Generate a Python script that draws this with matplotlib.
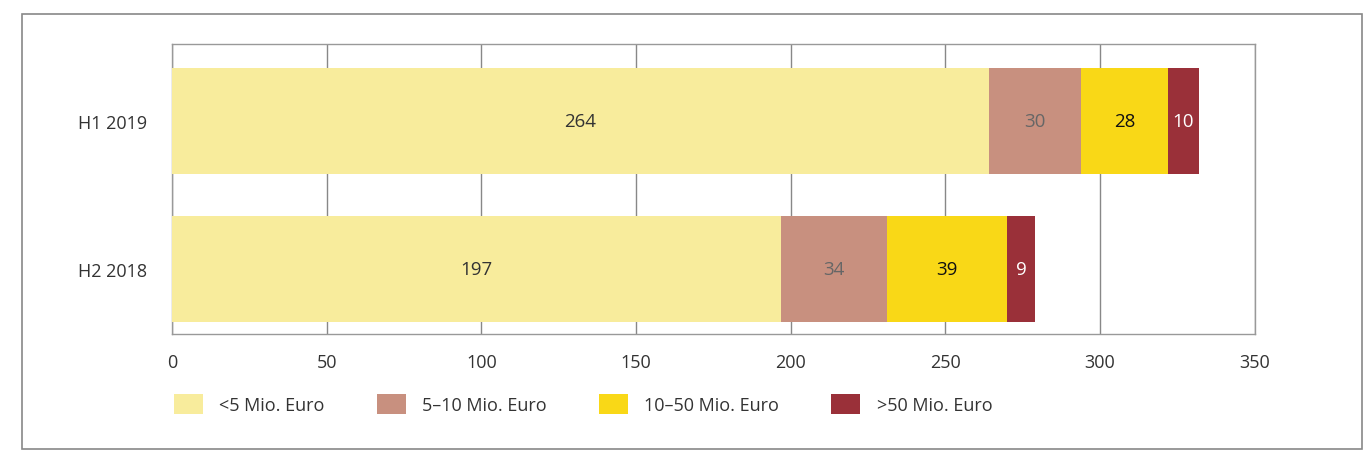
import matplotlib.pyplot as plt
from matplotlib.patches import Rectangle

categories = ["H2 2018", "H1 2019"]
series_names = ["<5 Mio. Euro", "5\u201310 Mio. Euro", "10\u201350 Mio. Euro", ">50 Mio. Euro"]
under_5 = [197, 264]
from_5_to_10 = [34, 30]
from_10_to_50 = [39, 28]
over_50 = [9, 10]
x_ticks = [0, 50, 100, 150, 200, 250, 300, 350]

colors = ["#F8EC9C", "#C8907F", "#F9D817", "#9A3039"]
label_colors = ["#333333", "#666666", "#111111", "#ffffff"]

plt.rcParams['font.family'] = ['Open Sans', 'DejaVu Sans']

fig = plt.figure(figsize=(13.72, 4.6), dpi=100)
ax = fig.add_axes([0.1254, 0.272, 0.789, 0.63])

series = [under_5, from_5_to_10, from_10_to_50, over_50]
ypos = list(range(len(categories)))
left = [0] * len(categories)
for name, values, color, tcolor in zip(series_names, series, colors, label_colors):
    bars = ax.barh(ypos, values, left=left, height=0.72, color=color, label=name, zorder=3)
    for bar, v in zip(bars, values):
        ax.text(bar.get_x() + bar.get_width() / 2, bar.get_y() + bar.get_height() / 2, str(v),
                ha="center", va="center", fontsize=13.5, color=tcolor, zorder=4)
    left = [l + v for l, v in zip(left, values)]

ax.set_xlim(0, 350)
ax.set_ylim(-0.44, 1.52)
ax.set_xticks(x_ticks)
ax.set_yticks(ypos)
ax.set_yticklabels(categories)
ax.tick_params(axis="both", length=0, labelsize=13, labelcolor="#333333")
ax.tick_params(axis="x", pad=14)
ax.tick_params(axis="y", pad=18)
ax.grid(axis="x", color="#888888", linewidth=1, zorder=0)
for s in ax.spines.values():
    s.set_color("#999999")
    s.set_linewidth(1)

fig.legend(loc="center left", bbox_to_anchor=(0.115, 0.12), ncol=4, frameon=False,
           fontsize=13, handlelength=1.6, handleheight=1.3, columnspacing=2.9,
           handletextpad=0.9, labelcolor="#333333")

fig.patches.append(Rectangle((22 / 1372, 10 / 460), 1340 / 1372, 435 / 460, transform=fig.transFigure,
                             fill=False, edgecolor="#888888", linewidth=1.2))

fig.savefig("out.png", dpi=100)
